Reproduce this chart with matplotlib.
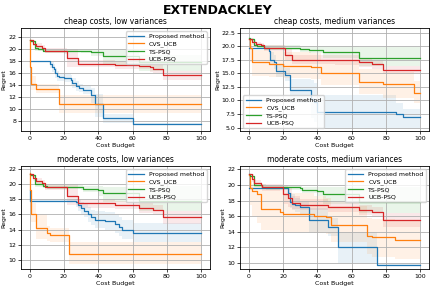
import numpy as np
import matplotlib.pyplot as plt

methods = ['Proposed method', 'CVS_UCB', 'TS-PSQ', 'UCB-PSQ']
colors = ['tab:blue', 'tab:orange', 'tab:green', 'tab:red']
titles = ['cheap costs, low variances', 'cheap costs, medium variances',
          'moderate costs, low variances', 'moderate costs, medium variances']

# panel 1: cheap costs, low variances
p1_prop_x = [0, 12, 13, 14, 15, 16, 17, 20, 24, 25, 27, 29, 31, 36, 38, 43, 60, 100]
p1_prop_y = [17.9, 17.5, 17.0, 16.6, 16.0, 15.5, 15.3, 15.2, 14.8, 14.3, 13.8, 13.5, 13.2, 12.3, 10.8, 8.5, 7.5, 7.5]
p1_prop_lo = [17.8, 16.8, 16.2, 15.8, 15.2, 14.7, 14.6, 14.5, 14.0, 13.5, 13.0, 12.8, 12.5, 11.0, 8.7, 7.7, 7.3, 7.3]
p1_prop_hi = [18.0, 18.0, 17.8, 17.4, 16.8, 16.3, 16.0, 15.9, 15.6, 15.1, 14.6, 14.2, 13.9, 13.5, 12.5, 9.2, 7.7, 7.7]
p1_cvs_x = [0, 0.5, 1, 4, 17, 100]
p1_cvs_y = [21.5, 17.0, 14.2, 13.3, 10.8, 10.8]
p1_cvs_lo = [21.5, 15.5, 13.2, 12.6, 9.4, 9.4]
p1_cvs_hi = [21.5, 18.5, 15.5, 14.2, 12.3, 12.3]
p1_ts_x = [0, 1, 3, 5, 8, 30, 36, 43, 64, 100]
p1_ts_y = [21.5, 21.3, 20.1, 20.0, 19.7, 19.6, 19.4, 18.8, 17.8, 17.8]
p1_ts_lo = [21.5, 21.0, 19.7, 19.6, 19.4, 19.3, 18.8, 17.3, 16.3, 16.3]
p1_ts_hi = [21.5, 21.5, 20.5, 20.4, 20.0, 19.9, 19.9, 19.9, 18.9, 18.9]
p1_ucb_x = [0, 2, 4, 7, 9, 20, 22, 28, 50, 64, 70, 72, 78, 100]
p1_ucb_y = [21.5, 20.8, 20.5, 20.2, 19.7, 19.6, 18.5, 17.5, 17.3, 17.2, 16.9, 16.7, 15.6, 15.6]
p1_ucb_lo = [21.5, 20.4, 20.0, 19.7, 19.3, 19.2, 17.0, 16.9, 16.7, 16.6, 16.2, 16.0, 14.9, 14.9]
p1_ucb_hi = [21.5, 21.2, 20.9, 20.6, 20.2, 20.1, 20.0, 18.2, 17.9, 17.8, 17.6, 17.4, 16.3, 16.3]

# panel 2: cheap costs, medium variances
p2_prop_x = [0, 12, 12.5, 15, 16, 21, 24, 36, 38, 40, 86, 90, 100]
p2_prop_y = [19.6, 19.2, 17.5, 17.0, 15.5, 14.7, 12.0, 10.3, 9.8, 7.8, 7.5, 7.0, 7.0]
p2_prop_lo = [19.6, 18.5, 16.5, 15.8, 14.3, 13.5, 9.5, 6.8, 6.0, 5.0, 5.0, 5.0, 5.0]
p2_prop_hi = [19.6, 19.7, 19.0, 18.3, 16.7, 16.0, 14.0, 13.8, 13.2, 11.0, 9.5, 8.5, 8.5]
p2_cvs_x = [0, 0.5, 2, 12, 20, 36, 42, 64, 78, 96, 100]
p2_cvs_y = [21.4, 19.6, 17.0, 16.8, 16.4, 16.2, 15.0, 13.4, 13.0, 11.4, 11.4]
p2_cvs_lo = [21.4, 17.0, 14.5, 14.3, 14.2, 14.0, 12.8, 11.2, 10.5, 9.5, 9.5]
p2_cvs_hi = [21.4, 20.5, 19.3, 19.2, 19.0, 18.7, 17.2, 15.8, 15.3, 13.5, 13.5]
p2_ts_x = [0, 1, 3, 5, 9, 30, 35, 43, 64, 100]
p2_ts_y = [21.5, 21.3, 20.3, 20.0, 19.7, 19.5, 19.3, 18.9, 17.8, 17.8]
p2_ts_lo = [21.5, 21.0, 19.9, 19.5, 19.3, 19.0, 18.7, 17.8, 16.3, 16.3]
p2_ts_hi = [21.5, 21.5, 20.7, 20.5, 20.2, 20.1, 20.0, 20.0, 19.8, 19.8]
p2_ucb_x = [0, 2, 4, 7, 9, 20, 21, 25, 50, 64, 72, 78, 100]
p2_ucb_y = [21.4, 20.7, 20.4, 20.2, 19.7, 19.7, 18.4, 17.5, 17.4, 17.1, 16.7, 15.6, 15.6]
p2_ucb_lo = [21.4, 20.3, 20.0, 19.8, 19.2, 19.2, 17.4, 16.8, 16.6, 16.2, 15.8, 14.8, 14.8]
p2_ucb_hi = [21.4, 21.1, 20.8, 20.6, 20.2, 20.2, 19.6, 18.4, 18.3, 17.9, 17.5, 16.4, 16.4]

# panel 3: moderate costs, low variances
p3_prop_x = [0, 0.5, 27, 28, 30, 32, 34, 36, 38, 44, 50, 52, 54, 60, 100]
p3_prop_y = [19.2, 17.8, 17.6, 17.2, 16.8, 16.5, 16.0, 15.6, 15.3, 15.1, 14.7, 14.3, 14.0, 13.5, 13.5]
p3_prop_lo = [19.2, 17.7, 17.0, 16.5, 16.0, 15.6, 15.0, 14.6, 14.2, 14.0, 13.5, 13.1, 12.8, 12.3, 12.3]
p3_prop_hi = [19.2, 17.9, 18.0, 17.9, 17.6, 17.4, 17.0, 16.6, 16.4, 16.3, 16.0, 15.6, 15.3, 14.8, 14.8]
p3_cvs_x = [0, 0.5, 1, 4, 10, 12, 23, 100]
p3_cvs_y = [21.5, 19.2, 16.0, 14.2, 13.5, 13.3, 10.8, 10.8]
p3_cvs_lo = [21.5, 17.5, 15.0, 12.8, 12.5, 12.4, 9.4, 9.4]
p3_cvs_hi = [21.5, 20.3, 17.5, 16.0, 14.5, 14.2, 12.3, 12.3]
p3_ts_x = [0, 1, 3, 8, 10, 30, 31, 40, 43, 64, 100]
p3_ts_y = [21.4, 21.2, 20.0, 19.8, 19.7, 19.6, 19.4, 19.2, 18.9, 17.8, 17.8]
p3_ts_lo = [21.4, 21.0, 19.7, 19.5, 19.4, 19.3, 19.0, 18.5, 17.6, 16.4, 16.4]
p3_ts_hi = [21.4, 21.4, 20.3, 20.1, 20.0, 19.9, 19.8, 19.8, 19.7, 19.8, 19.8]
p3_ucb_x = [0, 2, 4, 7, 9, 22, 28, 50, 64, 72, 78, 100]
p3_ucb_y = [21.4, 20.8, 20.4, 20.2, 19.7, 18.4, 17.5, 17.3, 16.9, 16.6, 15.6, 15.6]
p3_ucb_lo = [21.4, 20.4, 20.0, 19.8, 19.3, 17.2, 16.9, 16.7, 16.2, 15.9, 14.7, 14.7]
p3_ucb_hi = [21.4, 21.2, 20.8, 20.6, 20.1, 20.0, 18.0, 17.8, 17.5, 17.3, 16.5, 16.5]

# panel 4: moderate costs, medium variances
p4_prop_x = [0, 23, 24, 25, 27, 30, 35, 46, 52, 75, 100]
p4_prop_y = [19.6, 19.0, 17.8, 17.6, 17.4, 17.2, 15.5, 14.6, 12.0, 9.8, 9.8]
p4_prop_lo = [19.6, 18.4, 17.0, 16.8, 16.6, 16.3, 14.0, 13.5, 10.0, 9.7, 9.7]
p4_prop_hi = [19.6, 19.6, 19.0, 18.8, 18.4, 18.0, 17.0, 15.8, 14.0, 10.0, 10.0]
p4_cvs_x = [0, 0.5, 2, 5, 7, 18, 20, 38, 45, 48, 69, 72, 85, 100]
p4_cvs_y = [21.3, 19.6, 19.2, 18.8, 16.9, 16.5, 16.3, 16.1, 15.9, 14.9, 13.5, 13.3, 13.0, 13.0]
p4_cvs_lo = [21.3, 17.5, 16.0, 15.2, 14.3, 14.0, 14.0, 13.8, 13.7, 12.7, 11.2, 10.8, 10.5, 10.5]
p4_cvs_hi = [21.3, 20.5, 20.2, 20.0, 19.8, 19.3, 19.0, 18.6, 18.3, 17.3, 15.8, 15.6, 15.4, 15.4]
p4_ts_x = [0, 1, 3, 8, 10, 30, 31, 40, 43, 64, 100]
p4_ts_y = [21.4, 21.2, 20.0, 19.8, 19.7, 19.6, 19.4, 19.3, 18.9, 17.8, 17.8]
p4_ts_lo = [21.4, 21.0, 19.7, 19.5, 19.4, 19.3, 19.0, 18.6, 17.6, 16.4, 16.4]
p4_ts_hi = [21.4, 21.4, 20.3, 20.1, 20.0, 19.9, 19.8, 19.8, 19.8, 19.8, 19.8]
p4_ucb_x = [0, 2, 3, 7, 8, 20, 23, 25, 30, 46, 64, 72, 78, 100]
p4_ucb_y = [21.4, 20.8, 20.3, 20.0, 19.7, 18.8, 18.4, 17.7, 17.5, 17.2, 16.8, 16.6, 15.5, 15.5]
p4_ucb_lo = [21.4, 20.4, 19.9, 19.6, 19.3, 17.6, 17.2, 16.9, 16.8, 16.6, 16.2, 15.9, 14.6, 14.6]
p4_ucb_hi = [21.4, 21.2, 20.7, 20.4, 20.1, 20.0, 19.8, 18.6, 18.2, 17.8, 17.4, 17.2, 16.4, 16.4]

panels = [
    [(p1_prop_x, p1_prop_y, p1_prop_lo, p1_prop_hi), (p1_cvs_x, p1_cvs_y, p1_cvs_lo, p1_cvs_hi),
     (p1_ts_x, p1_ts_y, p1_ts_lo, p1_ts_hi), (p1_ucb_x, p1_ucb_y, p1_ucb_lo, p1_ucb_hi)],
    [(p2_prop_x, p2_prop_y, p2_prop_lo, p2_prop_hi), (p2_cvs_x, p2_cvs_y, p2_cvs_lo, p2_cvs_hi),
     (p2_ts_x, p2_ts_y, p2_ts_lo, p2_ts_hi), (p2_ucb_x, p2_ucb_y, p2_ucb_lo, p2_ucb_hi)],
    [(p3_prop_x, p3_prop_y, p3_prop_lo, p3_prop_hi), (p3_cvs_x, p3_cvs_y, p3_cvs_lo, p3_cvs_hi),
     (p3_ts_x, p3_ts_y, p3_ts_lo, p3_ts_hi), (p3_ucb_x, p3_ucb_y, p3_ucb_lo, p3_ucb_hi)],
    [(p4_prop_x, p4_prop_y, p4_prop_lo, p4_prop_hi), (p4_cvs_x, p4_cvs_y, p4_cvs_lo, p4_cvs_hi),
     (p4_ts_x, p4_ts_y, p4_ts_lo, p4_ts_hi), (p4_ucb_x, p4_ucb_y, p4_ucb_lo, p4_ucb_hi)],
]

ylims = [(6.3, 23.4), (4.3, 23.3), (8.7, 22.4), (9.2, 22.4)]
yticks = [np.arange(8, 23, 2), np.arange(5, 23, 2.5), np.arange(10, 23, 2), np.arange(10, 23, 2)]
legend_locs = ['upper right', 'lower left', 'upper right', 'upper right']

fig, axes = plt.subplots(2, 2, figsize=(4.36, 2.89), dpi=100)
fig.subplots_adjust(left=0.048, right=0.984, top=0.902, bottom=0.068, hspace=0.34, wspace=0.16)
fig.suptitle('EXTENDACKLEY', fontsize=9, fontweight='bold', y=0.985)

for i, ax in enumerate(axes.flat):
    for j, (x, y, lo, hi) in enumerate(panels[i]):
        ax.plot(x, y, drawstyle='steps-post', color=colors[j], lw=0.9, label=methods[j])
        ax.fill_between(x, lo, hi, step='post', color=colors[j], alpha=0.1, lw=0)
    ax.set_title(titles[i], fontsize=5.5, pad=3)
    ax.set_xlim(-5, 105)
    ax.set_ylim(*ylims[i])
    ax.set_xticks(np.arange(0, 101, 20))
    ax.set_yticks(yticks[i])
    ax.tick_params(labelsize=4.5, length=2, width=0.5, pad=1.5)
    ax.set_xlabel('Cost Budget', fontsize=4.5, labelpad=1)
    ax.set_ylabel('Regret', fontsize=4.5, labelpad=1)
    ax.grid(True, lw=0.6)
    for s in ax.spines.values():
        s.set_linewidth(0.6)
    ax.legend(loc=legend_locs[i], fontsize=4.5, handlelength=2.5, borderpad=0.4, labelspacing=0.3)

plt.savefig('out.png', dpi=100)
